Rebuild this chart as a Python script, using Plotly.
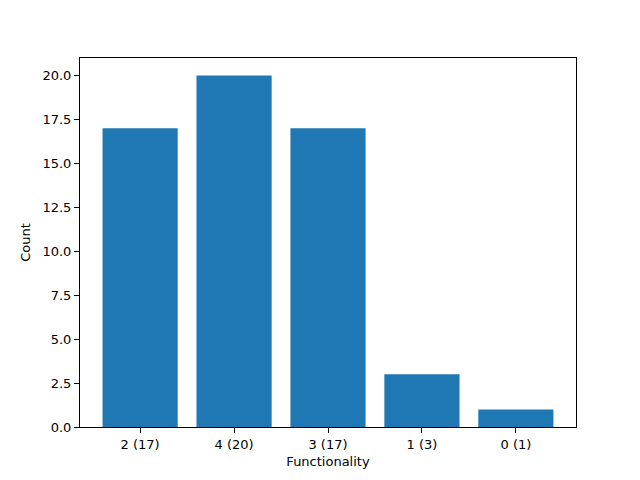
import plotly.graph_objects as go

# data
categories = ["2 (17)", "4 (20)", "3 (17)", "1 (3)", "0 (1)"]
counts = [17, 20, 17, 3, 1]
y_ticks = [0, 2.5, 5, 7.5, 10, 12.5, 15, 17.5, 20]

font = dict(family="DejaVu Sans", size=13, color="black")

fig = go.Figure(
    data=[go.Bar(x=categories, y=counts, marker_color="#1f77b4", marker_line_width=0)]
)
# page body adds an 8px offset, so margins are shifted to compensate
fig.update_layout(
    width=640,
    height=480,
    margin=dict(l=72, r=72, t=50, b=61),
    paper_bgcolor="white",
    plot_bgcolor="white",
    bargap=0.2,
    showlegend=False,
    font=font,
)
fig.update_xaxes(
    range=[-0.64, 4.64],
    showline=True,
    mirror=True,
    linecolor="black",
    linewidth=1,
    ticks="outside",
    ticklen=5,
    tickcolor="black",
    showgrid=False,
    title=dict(text="Functionality", font=font, standoff=6),
)
fig.update_yaxes(
    range=[0, 21],
    tickvals=y_ticks,
    ticktext=[f"{v:.1f}" for v in y_ticks],
    showline=True,
    mirror=True,
    linecolor="black",
    linewidth=1,
    ticks="outside",
    ticklen=5,
    tickcolor="black",
    showgrid=False,
    zeroline=False,
    title=dict(text="Count", font=font, standoff=8),
)
fig.write_html("out.html")
